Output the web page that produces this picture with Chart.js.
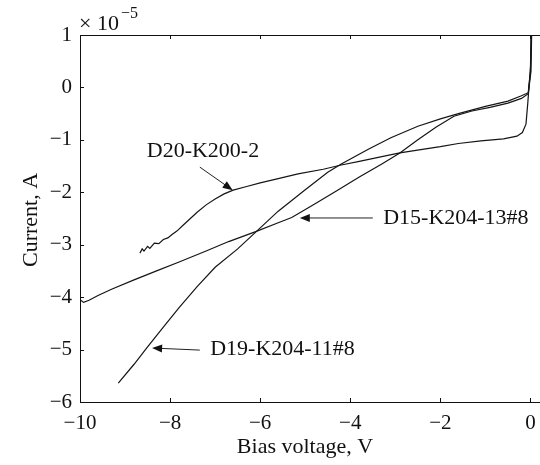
<!DOCTYPE html>
<html>
<head>
<meta charset="utf-8">
<script src="https://cdn.jsdelivr.net/npm/chart.js@4/dist/chart.umd.min.js"></script>
<style>
    html, body { margin: 0; padding: 0; background: #fff; overflow: hidden; }
    #wrap { width: 548px; height: 465px; }
</style>
</head>
<body>
<div id="wrap"><canvas id="ivChart" width="548" height="465"></canvas></div>
<script>
// Bias voltage (V) and current (x1e-5 A), one pair of arrays per device
const voltD20 = [-8.67, -8.62, -8.58, -8.5, -8.45, -8.35, -8.25, -8.15, -8.05, -7.95, -7.85, -7.7, -7.55, -7.4, -7.2, -7.0, -6.8, -6.6, -6.3, -6.0, -5.6, -5.16, -4.6, -4.2, -3.8, -3.3, -2.9, -2.4, -2.0, -1.6, -1.1, -0.6, -0.3, -0.18, -0.1, -0.06, 0.0, 0.02];
const currD20 = [-3.16, -3.08, -3.12, -3.03, -3.07, -2.97, -2.98, -2.9, -2.87, -2.8, -2.74, -2.62, -2.5, -2.38, -2.24, -2.13, -2.03, -1.96, -1.89, -1.82, -1.74, -1.65, -1.56, -1.48, -1.41, -1.32, -1.25, -1.18, -1.13, -1.07, -1.02, -0.98, -0.93, -0.86, -0.7, -0.3, 0.4, 1.2];

const voltD15 = [-10, -9.92, -9.8, -9.6, -9.3, -8.8, -8.3, -7.8, -7.2, -6.7, -6.1, -5.6, -5.3, -4.8, -4.3, -3.8, -3.3, -2.9, -2.5, -2.1, -1.7, -1.3, -0.9, -0.5, -0.2, -0.05, 0.01, 0.03];
const currD15 = [-4.05, -4.1, -4.06, -3.97, -3.85, -3.67, -3.5, -3.33, -3.12, -2.94, -2.75, -2.58, -2.48, -2.23, -1.97, -1.71, -1.46, -1.25, -1.0, -0.76, -0.55, -0.45, -0.38, -0.3, -0.21, -0.12, 0.3, 1.2];

const voltD19 = [-9.15, -8.8, -8.5, -8.15, -7.8, -7.4, -7.0, -6.5, -6.1, -5.6, -5.0, -4.5, -4.2, -3.6, -3.1, -2.5, -2.0, -1.6, -1.0, -0.5, -0.2, -0.05, 0.0, 0.02];
const currD19 = [-5.64, -5.28, -4.95, -4.57, -4.2, -3.8, -3.43, -3.08, -2.76, -2.36, -1.95, -1.62, -1.46, -1.18, -0.96, -0.74, -0.6, -0.5, -0.36, -0.26, -0.16, -0.1, 0.3, 1.2];

const xTicks = [-10, -8, -6, -4, -2, 0];
const yTicks = [1, 0, -1, -2, -3, -4, -5, -6];

// curve labels and their arrows, in data units
const noteText = ['D20-K200-2', 'D15-K204-13#8', 'D19-K204-11#8'];
const noteAt = [[-7.27, -1.21], [-3.27, -2.49], [-7.11, -5.0]];
const noteAlign = ['center', 'left', 'left'];
const arrowFrom = [[-7.34, -1.52], [-3.5, -2.49], [-7.34, -5.01]];
const arrowTo = [[-6.61, -1.96], [-5.12, -2.49], [-8.4, -4.97]];

document.addEventListener("DOMContentLoaded", () => {
    initIvChart();
});

function pairs(xs, ys) {
    return xs.map((x, i) => ({ x: x, y: ys[i] }));
}

function fmtTick(v) {
    return v < 0 ? '\u2212' + Math.abs(v) : String(v);
}

const serif = "'Liberation Serif', 'DejaVu Serif', serif";

// frame, inward tick marks, axis titles, exponent and arrow notes
const decorPlugin = {
    id: 'decor',
    afterDraw(chart) {
        const { ctx, chartArea: a, scales } = chart;
        const xs = scales.x, ys = scales.y;
        ctx.save();
        ctx.strokeStyle = '#111';
        ctx.lineWidth = 1;
        ctx.strokeRect(a.left + 0.5, a.top + 0.5, a.right - a.left, a.bottom - a.top);

        ctx.beginPath();
        xTicks.forEach(v => {
            const px = Math.round(xs.getPixelForValue(v)) + 0.5;
            ctx.moveTo(px, a.bottom); ctx.lineTo(px, a.bottom - 4);
            ctx.moveTo(px, a.top); ctx.lineTo(px, a.top + 4);
        });
        yTicks.forEach(v => {
            const py = Math.round(ys.getPixelForValue(v)) + 0.5;
            ctx.moveTo(a.left, py); ctx.lineTo(a.left + 4, py);
            ctx.moveTo(a.right, py); ctx.lineTo(a.right - 4, py);
        });
        ctx.stroke();

        ctx.fillStyle = '#111';
        ctx.textAlign = 'center';
        ctx.textBaseline = 'middle';
        ctx.font = '22px ' + serif;
        ctx.fillText('Bias voltage, V', 305, 447);

        ctx.save();
        ctx.translate(31, 220);
        ctx.rotate(-Math.PI / 2);
        ctx.fillText('Current, A', 0, 0);
        ctx.restore();

        ctx.textAlign = 'left';
        ctx.textBaseline = 'alphabetic';
        ctx.font = '22px ' + serif;
        ctx.fillText('\u00d7 10', 79, 30);
        ctx.font = '16px ' + serif;
        ctx.fillText('\u22125', 121, 18);

        // arrows pointing at each curve
        ctx.font = '22px ' + serif;
        ctx.textBaseline = 'middle';
        ctx.strokeStyle = '#222';
        ctx.fillStyle = '#111';
        noteText.forEach((t, i) => {
            ctx.textAlign = noteAlign[i];
            ctx.fillText(t, xs.getPixelForValue(noteAt[i][0]), ys.getPixelForValue(noteAt[i][1]));

            const x0 = xs.getPixelForValue(arrowFrom[i][0]), y0 = ys.getPixelForValue(arrowFrom[i][1]);
            const x1 = xs.getPixelForValue(arrowTo[i][0]), y1 = ys.getPixelForValue(arrowTo[i][1]);
            const ang = Math.atan2(y1 - y0, x1 - x0);
            const headLen = 10, headW = 4;
            ctx.beginPath();
            ctx.moveTo(x0, y0);
            ctx.lineTo(x1 - Math.cos(ang) * headLen * 0.8, y1 - Math.sin(ang) * headLen * 0.8);
            ctx.stroke();
            ctx.beginPath();
            ctx.moveTo(x1, y1);
            ctx.lineTo(x1 - Math.cos(ang) * headLen - Math.sin(ang) * headW, y1 - Math.sin(ang) * headLen + Math.cos(ang) * headW);
            ctx.lineTo(x1 - Math.cos(ang) * headLen + Math.sin(ang) * headW, y1 - Math.sin(ang) * headLen - Math.cos(ang) * headW);
            ctx.closePath();
            ctx.fill();
        });
        ctx.restore();
    }
};

function initIvChart() {
    const ctx = document.getElementById("ivChart");
    if (!ctx) return;

    const lineStyle = {
        borderColor: '#151515',
        borderWidth: 1.2,
        pointRadius: 0,
        tension: 0,
        fill: false
    };

    new Chart(ctx, {
        type: 'line',
        data: {
            datasets: [
                Object.assign({ label: 'D20-K200-2', data: pairs(voltD20, currD20) }, lineStyle),
                Object.assign({ label: 'D15-K204-13#8', data: pairs(voltD15, currD15) }, lineStyle),
                Object.assign({ label: 'D19-K204-11#8', data: pairs(voltD19, currD19) }, lineStyle)
            ]
        },
        options: {
            responsive: false,
            animation: false,
            events: [],
            layout: { padding: { left: 0, top: 35, right: 4, bottom: 0 } },
            plugins: {
                legend: { display: false },
                tooltip: { enabled: false }
            },
            scales: {
                x: {
                    type: 'linear',
                    min: -10,
                    max: 0.3,
                    grid: { display: false, drawTicks: false },
                    border: { display: false },
                    afterFit: s => { s.height = 63; },
                    afterBuildTicks: s => { s.ticks = xTicks.map(v => ({ value: v })); },
                    ticks: {
                        padding: 9,
                        color: '#111',
                        font: { family: serif, size: 21 },
                        maxRotation: 0,
                        callback: fmtTick
                    }
                },
                y: {
                    type: 'linear',
                    min: -6,
                    max: 1,
                    grid: { display: false, drawTicks: false },
                    border: { display: false },
                    afterFit: s => { s.width = 80; },
                    afterBuildTicks: s => { s.ticks = yTicks.map(v => ({ value: v })); },
                    ticks: {
                        padding: 8,
                        color: '#111',
                        font: { family: serif, size: 21 },
                        callback: fmtTick
                    }
                }
            }
        },
        plugins: [decorPlugin]
    });
}
</script>
</body>
</html>
